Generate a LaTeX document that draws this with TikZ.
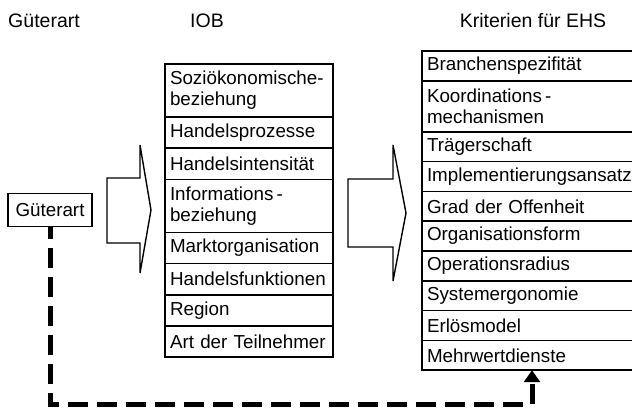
\documentclass[tikz,border=0pt]{standalone}
\usepackage{fontspec}
\setmainfont{Liberation Sans}
\usetikzlibrary{arrows.meta}
\begin{document}
\begin{tikzpicture}[x=1pt,y=-1pt,
  every node/.style={font=\fontsize{18.8}{21}\selectfont, outer sep=0pt},
  head/.style={inner sep=0pt, font=\fontsize{19.5}{24}\selectfont},
  cell/.style={draw, line width=1.6pt, anchor=north west, inner xsep=5pt, inner ysep=0pt, align=left},
  iob/.style={cell, text width=158pt, minimum height=31.2pt},
  iobtwo/.style={iob, minimum height=53pt},
  krit/.style={cell, text width=220pt, minimum height=29.8pt},
  krittwo/.style={krit, minimum height=51pt},
  gutbox/.style={draw, line width=1.6pt, minimum width=84pt, minimum height=33pt, inner sep=0pt},
  blockarrow/.style={draw, line width=1.4pt, fill=white, line join=miter},
  dashline/.style={line width=5pt, dash pattern=on 20pt off 9pt, dash phase=7.5pt, -{Triangle[width=16pt,length=12pt]}}
]
\useasboundingbox (0,0) rectangle (632,410);
\clip (0,0) rectangle (632,410);

% headers
\node[head] (hgut) at (44,21) {Güterart};
\node[head] (hiob) at (207,21) {IOB};
\node[head] (hkrit) at (533,21) {Kriterien für EHS};

% Gueterart box
\node[gutbox] (gut) at (50,210) {Güterart};

% block arrows
\draw[blockarrow] (107,178) -- (140,178) -- (140,145) -- (151,210) -- (140,273) -- (140,243) -- (107,243) -- cycle;
\draw[blockarrow] (348,179) -- (393,179) -- (393,145) -- (406,213) -- (393,281) -- (393,247) -- (348,247) -- cycle;

% IOB column
\node[iobtwo] (i1) at (165,64) {Soziökonomische-\\beziehung};
\node[iob] (i2) at (i1.south west) {Handelsprozesse};
\node[iob] (i3) at (i2.south west) {Handelsintensität};
\node[iobtwo] (i4) at (i3.south west) {Informations\,-\\beziehung};
\node[iob] (i5) at (i4.south west) {Marktorganisation};
\node[iob] (i6) at (i5.south west) {Handelsfunktionen};
\node[iob] (i7) at (i6.south west) {Region};
\node[iob] (i8) at (i7.south west) {Art der Teilnehmer};

% Kriterien column
\node[krit] (k1) at (422,51) {Branchenspezifität};
\node[krittwo] (k2) at (k1.south west) {Koordinations\,-\\mechanismen};
\node[krit] (k3) at (k2.south west) {Trägerschaft};
\node[krit] (k4) at (k3.south west) {Implementierungsansatz};
\node[krit] (k5) at (k4.south west) {Grad der Offenheit};
\node[krit] (k6) at (k5.south west) {Organisationsform};
\node[krit] (k7) at (k6.south west) {Operationsradius};
\node[krit] (k8) at (k7.south west) {Systemergonomie};
\node[krit] (k9) at (k8.south west) {Erlösmodel};
\node[krit] (k10) at (k9.south west) {Mehrwertdienste};

% dashed connector
\coordinate (turn) at (532,404);
\draw[dashline] (gut.south) |- (turn) -- (turn |- k10.south);
\end{tikzpicture}
\end{document}
